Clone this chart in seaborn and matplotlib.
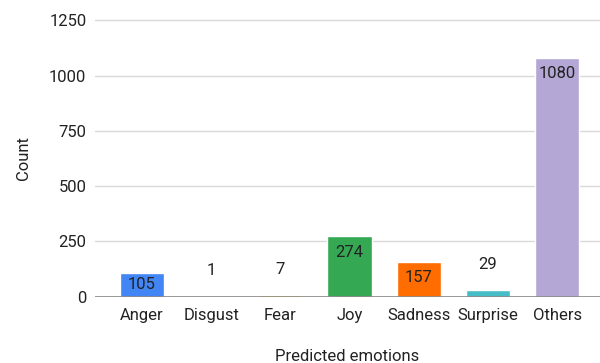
import matplotlib
matplotlib.use("Agg")
import matplotlib.pyplot as plt
import seaborn as sns
import pandas as pd

emotions = ["Anger", "Disgust", "Fear", "Joy", "Sadness", "Surprise", "Others"]
counts = [105, 1, 7, 274, 157, 29, 1080]
colors = ["#4285F4", "#EA4335", "#FBBC04", "#34A853", "#FF6D01", "#46BDC6", "#B4A7D6"]
y_ticks = [0, 250, 500, 750, 1000, 1250]

sns.set_theme(style="white")
plt.rcParams["font.family"] = ["Roboto", "DejaVu Sans"]

df = pd.DataFrame({"emotion": emotions, "count": counts})

fig = plt.figure(figsize=(6.0, 3.63), dpi=100)
ax = fig.add_axes([0.158, 0.183, 0.842, 0.761])

sns.barplot(data=df, x="emotion", y="count", hue="emotion", palette=colors,
            order=emotions, hue_order=emotions, width=0.64, legend=False,
            saturation=1, ax=ax)

ax.set_ylim(0, 1250)
ax.set_xlim(-0.68, 6.62)
ax.set_yticks(y_ticks)
ax.set_yticklabels([str(t) for t in y_ticks])
for t in y_ticks[1:]:
    ax.axhline(t, color="#d9d9d9", lw=1.0, zorder=0, clip_on=False)
ax.axhline(0, color="#888888", lw=1.2, zorder=3)

for s in ax.spines.values():
    s.set_visible(False)
ax.tick_params(axis="both", length=0, labelsize=12, colors="#222222")
ax.tick_params(axis="y", pad=6)
ax.tick_params(axis="x", pad=8)

ax.set_xlabel("Predicted emotions", fontsize=12, color="#222222", labelpad=19)
ax.set_ylabel("Count", fontsize=12, color="#222222", labelpad=13)

# value labels: inside the bar top for tall bars, above for short ones
fig.canvas.draw()
px_per_unit = ax.transData.transform((0, 1))[1] - ax.transData.transform((0, 0))[1]
inset = 16 / px_per_unit
for i, v in enumerate(counts):
    if v >= 100:
        yc = max(v - inset, v / 2)
        ax.text(i, yc, str(v), ha="center", va="center", fontsize=12,
                color="#222222", zorder=4)
    else:
        ax.annotate(str(v), (i, v), xytext=(0, 13), textcoords="offset points",
                    ha="center", va="bottom", fontsize=12, color="#222222", zorder=4)

fig.savefig("out.png", dpi=100)
